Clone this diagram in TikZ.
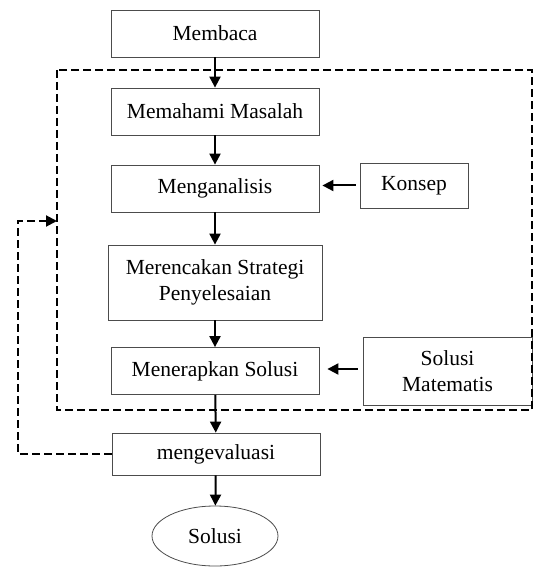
\documentclass[tikz,border=0pt]{standalone}
\usepackage{fontspec}
\setmainfont{Liberation Serif}
\usetikzlibrary{arrows.meta,shapes.geometric}
\tikzset{
  stepbox/.style={draw=black!70, line width=0.8pt, minimum width=208pt, minimum height=47pt, align=center, font=\fontsize{21.5}{26}\selectfont},
  flow/.style={line width=2pt, -{Triangle[length=11pt,width=11pt]}},
  loopline/.style={line width=2pt, dash pattern=on 8pt off 4pt},
}
\begin{document}
\begin{tikzpicture}[x=1pt,y=-1pt]
  \useasboundingbox (0,0) rectangle (535,569);
  % langkah utama
  \node[stepbox] (membaca) at (215,33.5) {Membaca};
  \node[stepbox] (memahami) at (215,111.5) {Memahami Masalah};
  \node[stepbox] (analisis) at (215,188.5) {Menganalisis};
  \node[stepbox, minimum width=214pt, minimum height=75pt] (rencana) at (215,282.5) {Merencakan Strategi\\Penyelesaian};
  \node[stepbox] (terapkan) at (215,371) {Menerapkan Solusi};
  \node[stepbox, minimum height=42pt] (evaluasi) at (216,454) {mengevaluasi};
  \node[stepbox, ellipse, minimum width=126pt, minimum height=60pt, inner sep=0pt] (solusi) at (215,536) {Solusi};
  % masukan samping
  \node[stepbox, minimum width=108pt, minimum height=45pt] (konsep) at (414,185.5) {Konsep};
  \node[stepbox, minimum width=169pt, minimum height=68pt] (matematis) at (447.5,371) {Solusi\\Matematis};
  % kotak putus-putus
  \draw[loopline] (57,70) rectangle (532,410);
  \coordinate (balik) at (18,221);
  \coordinate (masuk) at (57,221);
  \draw[loopline, -{Triangle[length=11pt,width=11pt]}] (evaluasi.west) -| (balik) -- (masuk);
  % panah
  \draw[flow] (membaca) -- (memahami);
  \draw[flow] (memahami) -- (analisis);
  \draw[flow] (analisis) -- (rencana);
  \draw[flow] (rencana) -- (terapkan);
  \draw[flow] (terapkan) -- (evaluasi);
  \draw[flow] (evaluasi) -- (solusi);
  \draw[flow, shorten <=4pt, shorten >=3pt] (konsep.west) -- (konsep.west -| analisis.east);
  \draw[flow, shorten <=5pt, shorten >=8pt] ([yshift=2pt]matematis.west) -- ([yshift=2pt]matematis.west -| terapkan.east);
\end{tikzpicture}
\end{document}
